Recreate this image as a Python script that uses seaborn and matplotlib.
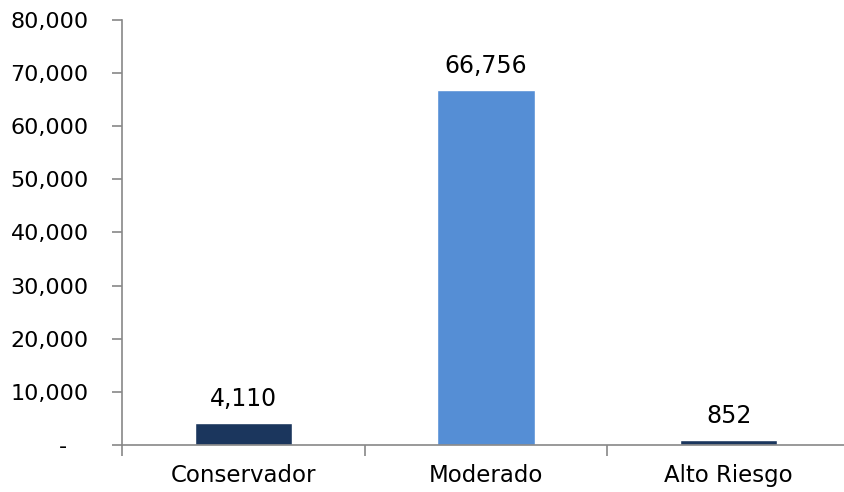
import matplotlib
matplotlib.use("Agg")
import matplotlib.pyplot as plt
import seaborn as sns
import pandas as pd
from matplotlib.ticker import FuncFormatter, FixedLocator

categories = ["Conservador", "Moderado", "Alto Riesgo"]
values = [4110, 66756, 852]
colors = ["#1B365D", "#558ED5", "#1B365D"]

df = pd.DataFrame({"perfil": categories, "monto": values})

sns.set_style("white")
plt.rcParams["font.family"] = ["DejaVu Sans"]

fig = plt.figure(figsize=(8.44, 4.92), dpi=100)
ax = fig.add_axes([122 / 844, 47 / 492, 728 / 844, 425 / 492])

sns.barplot(data=df, x="perfil", y="monto", hue="perfil", palette=colors,
            width=0.4, legend=False, ax=ax, saturation=1)

ax.set_ylim(0, 80000)
ax.set_xlim(-0.5, 2.5)
ax.yaxis.set_major_locator(FixedLocator(range(0, 80001, 10000)))
# Excel-style accounting format: zero shown as a dash
ax.yaxis.set_major_formatter(FuncFormatter(lambda v, p: "-   " if v == 0 else f"{int(v):,}"))

for i, v in enumerate(values):
    ax.text(i, v + 2300, f"{v:,}", ha="center", va="bottom", fontsize=17, color="black")

for s in ["top", "right"]:
    ax.spines[s].set_visible(False)
for s in ["left", "bottom"]:
    ax.spines[s].set_color("#888888")
    ax.spines[s].set_linewidth(1.2)

ax.tick_params(axis="y", which="major", direction="out", length=7, width=1.2,
               color="#888888", labelsize=16, labelcolor="black", pad=17, left=True)
ax.tick_params(axis="x", which="major", length=0, labelsize=16.5, labelcolor="black", pad=14)
ax.xaxis.set_minor_locator(FixedLocator([-0.5, 0.5, 1.5, 2.5]))
ax.tick_params(axis="x", which="minor", direction="out", length=8, width=1.2,
               color="#888888", bottom=True)

ax.set_xlabel("")
ax.set_ylabel("")

fig.savefig("out.png", dpi=100)
